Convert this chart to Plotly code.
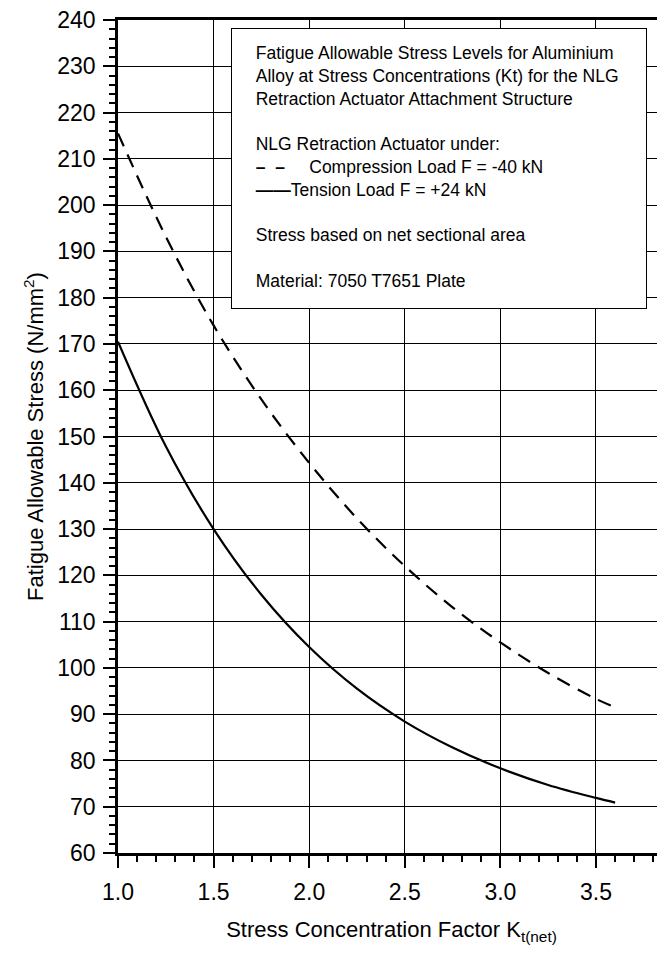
import plotly.graph_objects as go

# Compression load F = -40 kN (dashed)
comp_kt = [1.0, 1.25, 1.5, 1.75, 2.0, 2.25, 2.5, 2.75, 3.0, 3.25, 3.5, 3.6]
comp_stress = [215.5, 193.2, 174.0, 158.0, 144.3, 132.3, 122.0, 113.1, 105.5, 98.9, 93.3, 91.5]

# Tension load F = +24 kN (solid)
tens_kt = [1.0, 1.25, 1.5, 1.75, 2.0, 2.25, 2.5, 2.75, 3.0, 3.25, 3.5, 3.6]
tens_stress = [170.5, 147.9, 130.0, 115.8, 104.5, 95.5, 88.4, 82.8, 78.3, 74.7, 71.9, 70.9]

x_ticks = [1.0, 1.5, 2.0, 2.5, 3.0, 3.5]
x_tick_labels = ["1.0", "1.5", "2.0", "2.5", "3.0", "3.5"]
y_ticks = list(range(60, 241, 10))

box_lines = [
    "Fatigue Allowable Stress Levels for Aluminium",
    "Alloy at Stress Concentrations (Kt) for the NLG",
    "Retraction Actuator Attachment Structure",
    " ",
    "NLG Retraction Actuator under:",
    "<b>\u2013  \u2013</b>     Compression Load F = -40 kN",
    "<b>\u2014\u2014</b>Tension Load F = +24 kN",
    " ",
    "Stress based on net sectional area",
    " ",
    "Material: 7050 T7651 Plate",
]

FONT = "Liberation Sans, Arial, sans-serif"

fig = go.Figure()
fig.add_trace(go.Scatter(x=comp_kt, y=comp_stress, mode="lines",
                         line=dict(color="black", width=2.2, dash="14px,9px", shape="spline"),
                         showlegend=False))
fig.add_trace(go.Scatter(x=tens_kt, y=tens_stress, mode="lines",
                         line=dict(color="black", width=2.2, shape="spline"),
                         showlegend=False))

# page body has an 8px default margin, so the figure is offset by (8, 8)
OFF = 8
W, H = 665 - OFF, 954 - OFF
ml, mr, mt, mb = 118 - OFF, 0, 20 - OFF, 101

fig.update_layout(
    width=W, height=H,
    margin=dict(l=ml, r=mr, t=mt, b=mb, autoexpand=False),
    paper_bgcolor="white", plot_bgcolor="white",
    font=dict(family=FONT, color="black", size=22),
    xaxis=dict(
        range=[1.0, 3.861], tickvals=x_ticks, ticktext=x_tick_labels,
        ticks="outside", ticklen=12, tickwidth=2, tickcolor="black",
        showline=True, linecolor="black", linewidth=2.5, mirror=True,
        showgrid=True, gridcolor="black", gridwidth=1, zeroline=False,
        tickfont=dict(size=23, family=FONT), automargin=False,
        ticklabelstandoff=5, ticklabeloverflow="allow",
        minor=dict(dtick=0.1, tick0=1.0, ticks="outside", ticklen=6, tickwidth=2,
                   tickcolor="black", showgrid=False),
        title=dict(text="Stress Concentration Factor K<sub>t(net)</sub>",
                   font=dict(size=22, family=FONT), standoff=18),
    ),
    yaxis=dict(
        range=[60, 240], tickvals=y_ticks,
        ticks="outside", ticklen=12, tickwidth=2, tickcolor="black",
        showline=True, linecolor="black", linewidth=2.5,
        showgrid=True, gridcolor="black", gridwidth=1, zeroline=False,
        tickfont=dict(size=23, family=FONT), automargin=False,
        ticklabelstandoff=3, ticklabeloverflow="allow",
        minor=dict(dtick=2, tick0=60, ticks="outside", ticklen=6, tickwidth=2,
                   tickcolor="black", showgrid=False),
        title=dict(text="Fatigue Allowable Stress (N/mm<sup>2</sup>)",
                   font=dict(size=22, family=FONT), standoff=8),
    ),
)

pw = W - ml - mr
ph = H - mt - mb
box_left, box_top = 231 - OFF, 28 - OFF
pad = 14
fig.add_annotation(
    xref="paper", yref="paper",
    x=(box_left - ml) / pw, y=1 - (box_top - mt) / ph,
    xanchor="left", yanchor="top",
    text="<br>".join("&nbsp;&nbsp;" + s for s in box_lines), align="left", valign="top",
    showarrow=False, bgcolor="white", bordercolor="black", borderwidth=1,
    borderpad=pad, width=414 - 2 * pad, height=279 - 2 * pad,
    font=dict(size=17.5, family=FONT, color="black"),
)

fig.write_html("out.html")
